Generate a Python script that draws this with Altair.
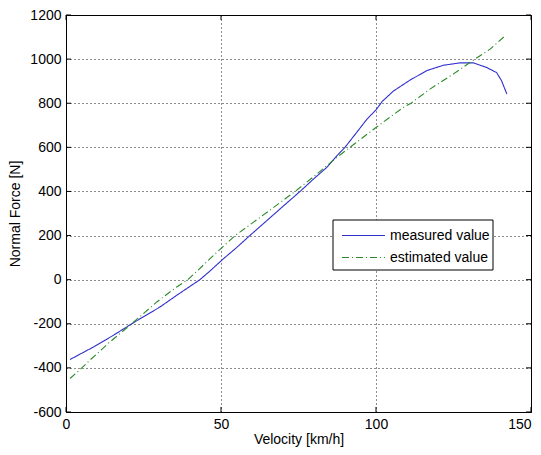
import altair as alt
import pandas as pd

# measured (blue, solid)
meas_v = [1.3, 8.9, 15.3, 21.2, 30.3, 35.7, 43.2, 46.5, 50.8, 55.0, 59.3, 64.8, 70.2, 75.5,
          79.9, 84.2, 87.4, 90.0, 93.9, 97.1, 100.0, 102.0, 105.6, 111.0, 116.4, 121.7,
          127.1, 131.4, 135.7, 138.9, 140.5, 142.2]
meas_f = [-362, -305, -252, -200, -124, -71, 0, 40, 95, 145, 200, 268, 335, 400,
          457, 510, 562, 600, 670, 728, 770, 808, 855, 905, 948, 972,
          983, 983, 962, 939, 902, 842]

# estimated (green, dash-dot)
est_v = [1.3, 5.1, 7.7, 14.2, 21.2, 29.3, 35.7, 39.3, 42.2, 48.7, 54.6, 60.5, 67.0, 73.9,
         81.0, 87.4, 91.6, 100.0, 108.8, 111.3, 117.4, 124.9, 131.9, 136.8, 141.6]
est_f = [-448, -400, -365, -282, -200, -101, -33, 0, 38, 125, 200, 261, 328, 400,
         480, 555, 600, 690, 781, 800, 864, 932, 1000, 1045, 1105]

series_names = ["measured value", "estimated value"]
series_colors = ["#2f2fcc", "#2a8a2a"]
series_dash = [[1, 0], [7, 3, 1, 3]]

x_ticks = [0, 50, 100, 150]
y_ticks = [-600, -400, -200, 0, 200, 400, 600, 800, 1000, 1200]

W, H = 465, 397
FONT = "Liberation Sans"
FS = 14

df = pd.concat([
    pd.DataFrame({"v": meas_v, "f": meas_f, "s": series_names[0], "o": range(len(meas_v))}),
    pd.DataFrame({"v": est_v, "f": est_f, "s": series_names[1], "o": range(len(est_v))}),
])

xs = alt.Scale(domain=[0, 150], nice=False, zero=False)
ys = alt.Scale(domain=[-600, 1200], nice=False, zero=False)

xaxis = alt.Axis(values=x_ticks, grid=True, gridDash=[1, 3], gridColor="#000", gridOpacity=0.9,
                 domain=False, ticks=False, tickSize=0, labelPadding=5,
                 labelExpr="'' + datum.value", labelFont=FONT, labelFontSize=FS,
                 labelColor="#000", labelFlush=False,
                 labelAlign={"condition": {"test": "datum.value == 150", "value": "right"},
                             "value": "center"},
                 title="Velocity [km/h]", titleFont=FONT, titleFontSize=FS,
                 titleFontWeight="normal", titleColor="#000",
                 titleBaseline="alphabetic", titleY=31)
yaxis = alt.Axis(values=y_ticks, grid=True, gridDash=[1, 3], gridColor="#000", gridOpacity=0.9,
                 domain=False, ticks=False, tickSize=0, labelPadding=5,
                 labelExpr="'' + datum.value", labelFont=FONT, labelFontSize=FS,
                 labelColor="#000", labelFlush=False,
                 title="Normal Force [N]", titleFont=FONT, titleFontSize=FS,
                 titleFontWeight="normal", titleColor="#000", titlePadding=7)

lines = alt.Chart(df).mark_line(strokeWidth=1.1).encode(
    x=alt.X("v:Q", scale=xs, axis=xaxis),
    y=alt.Y("f:Q", scale=ys, axis=yaxis),
    order="o:Q",
    color=alt.Color("s:N", scale=alt.Scale(domain=series_names, range=series_colors),
                    legend=None),
    strokeDash=alt.StrokeDash("s:N", scale=alt.Scale(domain=series_names, range=series_dash),
                              legend=None),
)

xt = pd.DataFrame({"t": x_ticks})
yt = pd.DataFrame({"t": y_ticks})
tick_style = dict(color="#000", strokeWidth=1)
bottom_ticks = alt.Chart(xt).mark_rule(**tick_style).encode(
    x=alt.X("t:Q", scale=xs), y=alt.value(H - 5), y2=alt.value(H))
top_ticks = alt.Chart(xt).mark_rule(**tick_style).encode(
    x=alt.X("t:Q", scale=xs), y=alt.value(0), y2=alt.value(5))
left_ticks = alt.Chart(yt).mark_rule(**tick_style).encode(
    y=alt.Y("t:Q", scale=ys), x=alt.value(0), x2=alt.value(5))
right_ticks = alt.Chart(yt).mark_rule(**tick_style).encode(
    y=alt.Y("t:Q", scale=ys), x=alt.value(W - 5), x2=alt.value(W))

# legend box (manual, MATLAB style)
one = alt.Data(values=[{"k": 1}])
LX0, LX1, LY0, LY1 = 267, 427, 205, 255
ROW_Y = [220.5, 242.5]
legend_box = alt.Chart(one).mark_rect(fill="#fff", stroke="#000", strokeWidth=1).encode(
    x=alt.value(LX0), x2=alt.value(LX1), y=alt.value(LY0), y2=alt.value(LY1))
legend_layers = [legend_box]
for i, name in enumerate(series_names):
    legend_layers.append(
        alt.Chart(one).mark_rule(color=series_colors[i], strokeWidth=1.1,
                                 strokeDash=series_dash[i]).encode(
            x=alt.value(LX0 + 9), x2=alt.value(LX0 + 52), y=alt.value(ROW_Y[i])))
    legend_layers.append(
        alt.Chart(one).mark_text(align="left", baseline="middle", font=FONT, fontSize=FS,
                                 color="#000").encode(
            x=alt.value(LX0 + 57), y=alt.value(ROW_Y[i]), text=alt.value(name)))

chart = alt.layer(lines, bottom_ticks, top_ticks, left_ticks, right_ticks,
                  *legend_layers).properties(
    width=W, height=H,
    autosize=alt.AutoSizeParams(type="none"),
    padding={"left": 58, "top": 7, "right": 2, "bottom": 35},
    background="#ffffff",
).configure_view(stroke="#000", strokeWidth=1)

chart.save("out.html", embed_options={"renderer": "svg", "actions": False})
